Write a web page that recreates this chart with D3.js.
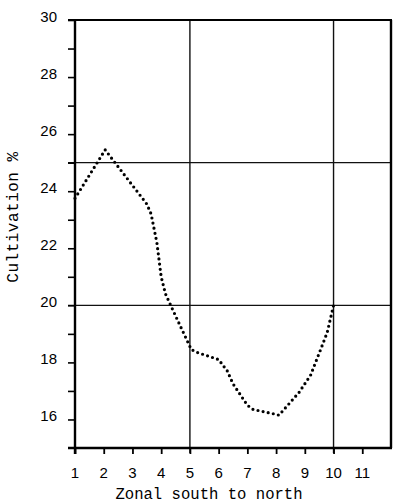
<!DOCTYPE html>
<html>
<head>
<meta charset="utf-8">
<script src="https://cdn.jsdelivr.net/npm/d3@7"></script>
<style>
  html, body { margin: 0; padding: 0; background: #fff; }
  svg { display: block; }
</style>
</head>
<body>
<svg id="chart" width="400" height="504"></svg>
<script>
// ---- data ----
const zoneX = [1, 2.05, 3.5, 3.65, 3.85, 4.0, 4.15, 4.4, 4.7, 5.05, 5.25, 6.0, 6.3, 6.5, 7.0, 7.2, 7.9, 8.1, 8.8, 9.2, 9.55, 9.78, 10];
const cultivation = [23.75, 25.45, 23.55, 23.2, 22.2, 21.0, 20.4, 19.85, 19.2, 18.45, 18.35, 18.1, 17.7, 17.25, 16.5, 16.35, 16.2, 16.15, 16.95, 17.55, 18.45, 19.05, 20.0];
const xTickLabels = [1, 2, 3, 4, 5, 6, 7, 8, 9, 10, 11];
const yTickLabels = [16, 18, 20, 22, 24, 26, 28, 30];
const yMinorTicks = [16, 17, 18, 19, 20, 21, 22, 23, 24, 25, 26, 27, 28, 29, 30];
const xGrid = [5, 10];
const yGrid = [20, 25];
const xTitle = "Zonal south to north";
const yTitle = "Cultivation %";

(function () {
// ---- layout ----
const L = 75, R = 391, T = 20, B = 448;
const svg = d3.select("#chart");

const x = d3.scaleLinear().domain([1, 12]).range([L, R]);
const y = d3.scaleLinear().domain([15, 30]).range([B, T]);

// gridlines
svg.append("g").selectAll("line").data(yGrid).join("line")
  .attr("x1", L - 7).attr("x2", R)
  .attr("y1", d => y(d)).attr("y2", d => y(d))
  .attr("stroke", "#111").attr("stroke-width", 1.4);
svg.append("g").selectAll("line").data(xGrid).join("line")
  .attr("x1", d => x(d)).attr("x2", d => x(d))
  .attr("y1", T).attr("y2", B + 5)
  .attr("stroke", "#111").attr("stroke-width", 1.4);

// y axis ticks (odd and even values)
const yAxis = d3.axisLeft(y).tickValues(yMinorTicks).tickSize(7).tickFormat("");
const gy = svg.append("g").attr("transform", `translate(${L},0)`).call(yAxis);
gy.select(".domain").remove();
gy.selectAll(".tick line").attr("stroke", "#000").attr("stroke-width", 1.6);

// y tick labels
svg.append("g").selectAll("text").data(yTickLabels).join("text")
  .attr("x", 57).attr("y", d => y(d) + 2)
  .attr("text-anchor", "end")
  .attr("font-family", "Liberation Sans, Arial, sans-serif")
  .attr("font-size", 15)
  .attr("fill", "#000")
  .text(d => d);

// x axis ticks
const xAxis = d3.axisBottom(x).tickValues(xTickLabels).tickSize(6).tickFormat("");
const gx = svg.append("g").attr("transform", `translate(0,${B})`).call(xAxis);
gx.select(".domain").remove();
gx.selectAll(".tick line").attr("stroke", "#000").attr("stroke-width", 1.8);

svg.append("g").selectAll("text").data(xTickLabels).join("text")
  .attr("x", d => x(d)).attr("y", 478)
  .attr("text-anchor", "middle")
  .attr("font-family", "Liberation Sans, Arial, sans-serif")
  .attr("font-size", 15)
  .attr("fill", "#000")
  .text(d => d);

// frame
const frame = svg.append("g").attr("stroke", "#000").attr("fill", "none");
frame.append("line").attr("x1", L - 7).attr("x2", R + 1).attr("y1", T).attr("y2", T).attr("stroke-width", 2);
frame.append("line").attr("x1", L - 7).attr("x2", R + 1).attr("y1", B).attr("y2", B).attr("stroke-width", 2.4);
frame.append("line").attr("x1", L).attr("x2", L).attr("y1", T).attr("y2", B + 6).attr("stroke-width", 2.4);
frame.append("line").attr("x1", R).attr("x2", R).attr("y1", T).attr("y2", B).attr("stroke-width", 2.4);

// dotted data line
const pts = zoneX.map((v, i) => [v, cultivation[i]]);
const line = d3.line().x(d => x(d[0])).y(d => y(d[1]));
svg.append("path")
  .datum(pts)
  .attr("d", line)
  .attr("fill", "none")
  .attr("stroke", "#000")
  .attr("stroke-width", 3.2)
  .attr("stroke-linecap", "round")
  .attr("stroke-dasharray", "0 5.2");

// titles
svg.append("text")
  .attr("x", 209).attr("y", 499)
  .attr("text-anchor", "middle")
  .attr("font-family", "Liberation Mono, DejaVu Sans Mono, monospace")
  .attr("font-size", 15.6)
  .attr("fill", "#000")
  .text(xTitle);

svg.append("text")
  .attr("transform", "translate(18,217) rotate(-90)")
  .attr("text-anchor", "middle")
  .attr("font-family", "Liberation Mono, DejaVu Sans Mono, monospace")
  .attr("font-size", 16)
  .attr("letter-spacing", 0.5)
  .attr("fill", "#000")
  .text(yTitle);
})();
</script>
</body>
</html>
